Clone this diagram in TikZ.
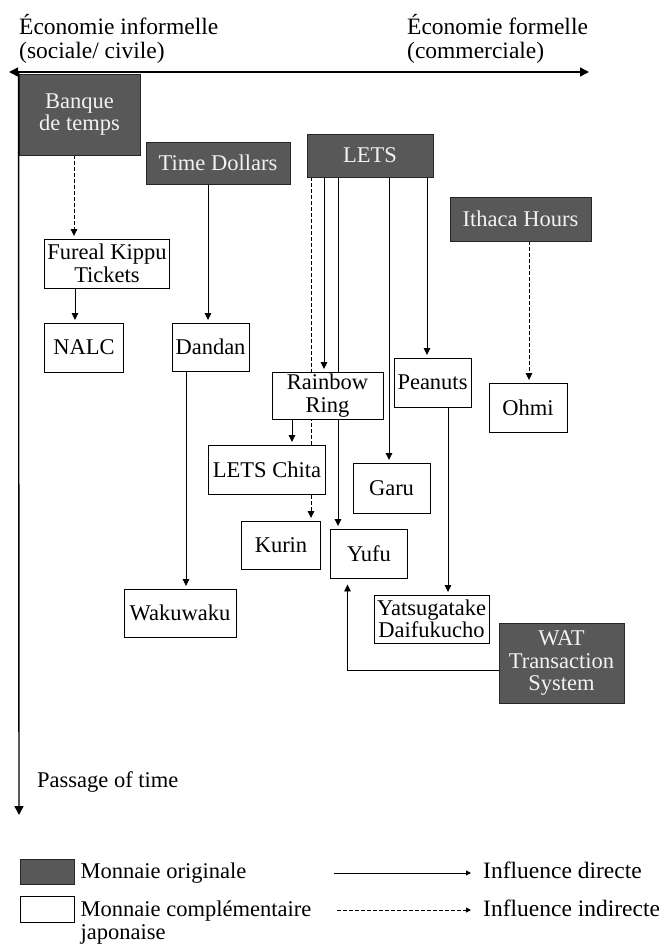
\documentclass[tikz,border=0pt]{standalone}
\usepackage{fontspec}
\setmainfont{Liberation Serif}
\usetikzlibrary{arrows.meta}
\definecolor{darkfill}{HTML}{585858}
\definecolor{lighttext}{HTML}{F2F2F2}
\pgfdeclarelayer{bg}
\pgfsetlayers{bg,main}
\begin{document}
\begin{tikzpicture}[x=1pt,y=-1pt,
  every node/.style={font=\fontsize{22.5}{22.5}\selectfont, inner sep=0pt},
  wbox/.style={draw=black, fill=white, line width=0.9pt, align=center},
  dbox/.style={draw=black!85, fill=darkfill, text=lighttext, line width=0.9pt, align=center},
  conn/.style={line width=0.9pt, -{Triangle[length=7pt,width=6.5pt]}, shorten >=2.5pt},
  dconn/.style={conn, dash pattern=on 3.5pt off 2.5pt},
  lbl/.style={anchor=base west},
  hdr/.style={lbl, font=\fontsize{23.5}{23.5}\selectfont},
  axisline/.style={line width=1.4pt}
]
\useasboundingbox (0,0) rectangle (664,945);

% header
\node[hdr] (h1) at (19,34) {Économie informelle};
\node[hdr] (h2) at (19,58) {(sociale/ civile)};
\node[hdr] (h3) at (407,34) {Économie formelle};
\node[hdr] (h4) at (407,58) {(commerciale)};

% boxes
\node[dbox, minimum width=121, minimum height=81] (banque) at (79.5,114.5) {Banque\\de temps};
\node[dbox, minimum width=144, minimum height=42] (timed) at (218,163) {Time Dollars};
\node[dbox, minimum width=126, minimum height=43] (lets) at (370,155.5) {LETS};
\node[dbox, minimum width=141, minimum height=44] (ithaca) at (520.5,219) {Ithaca Hours};
\node[wbox, minimum width=125, minimum height=49] (fureal) at (107,263.5) {Fureal Kippu\\Tickets};
\node[wbox, minimum width=79, minimum height=49] (nalc) at (84,347.5) {NALC};
\node[wbox, minimum width=77, minimum height=48] (dandan) at (210.5,347) {Dandan};
\node[wbox, minimum width=111, minimum height=47] (rainbow) at (327.5,395.5) {Rainbow\\Ring};
\node[wbox, minimum width=77, minimum height=49] (peanuts) at (432.5,382.5) {Peanuts};
\node[wbox, minimum width=78, minimum height=49] (ohmi) at (528,407.5) {Ohmi};
\node[wbox, minimum width=117, minimum height=49] (chita) at (267,469.5) {LETS Chita};
\node[wbox, minimum width=77, minimum height=50] (garu) at (391.5,488) {Garu};
\node[wbox, minimum width=79, minimum height=48] (kurin) at (281,545) {Kurin};
\node[wbox, minimum width=77, minimum height=49] (yufu) at (369,553.5) {Yufu};
\node[wbox, minimum width=112, minimum height=48] (waku) at (180,613) {Wakuwaku};
\node[wbox, minimum width=115, minimum height=48] (yatsu) at (431.5,619) {Yatsugatake\\Daifukucho};
\node[dbox, minimum width=125, minimum height=80] (wat) at (561.5,663) {WAT\\Transaction\\System};

% axes
\coordinate (axL) at (9,72);
\coordinate (axR) at (589,72);
\coordinate (axB) at (19,815);
\draw[axisline, {Triangle[length=9pt,width=9pt]}-{Triangle[length=9pt,width=9pt]}] (axL) -- (axR);
\draw[axisline, -{Triangle[length=9pt,width=9pt]}] (banque.west |- axL) -- (axB);
\node[lbl] (passage) at (37,787) {Passage of time};

% connectors (behind boxes)
\begin{pgfonlayer}{bg}
\draw[dconn] (banque.south -| 74,0) -- (fureal.north -| 74,0);
\draw[conn] (fureal.south -| 75,0) -- (nalc.north -| 75,0);
\draw[conn] (timed.south -| 208,0) -- (dandan.north -| 208,0);
\draw[conn] (dandan.south -| 186,0) -- (waku.north -| 186,0);
\draw[dconn] (lets.south -| 311,0) -- (kurin.north -| 311,0);
\draw[conn] (lets.south -| 324,0) -- (rainbow.north -| 324,0);
\draw[conn] (lets.south -| 338,0) -- (yufu.north -| 338,0);
\draw[conn] (lets.south -| 389,0) -- (garu.north -| 389,0);
\draw[conn] (lets.south -| 427,0) -- (peanuts.north -| 427,0);
\draw[conn] (peanuts.south -| 448,0) -- (yatsu.north -| 448,0);
\draw[conn] (rainbow.south -| 292,0) -- (chita.north -| 292,0);
\draw[dconn] (ithaca.south -| 529,0) -- (ohmi.north -| 529,0);
\coordinate (watbend) at (347.5,670);
\draw[conn, shorten >=6pt] (wat.west |- watbend) -- (watbend) -- (yufu.south -| watbend);
\end{pgfonlayer}

% legend
\node[dbox, minimum width=54, minimum height=25] (legD) at (47,871.5) {};
\node[wbox, minimum width=54, minimum height=26] (legW) at (47,909) {};
\node[lbl] (t1) at (80.5,878) {Monnaie originale};
\node[lbl] (t2) at (80.5,916.5) {Monnaie complémentaire};
\node[lbl] (t3) at (80.5,939) {japonaise};
\coordinate (s1) at (334,873);
\coordinate (e1) at (471,873);
\coordinate (s2) at (337,910);
\coordinate (e2) at (471,910);
\draw[conn, shorten >=0pt, -{Triangle[length=5pt,width=5pt]}] (s1) -- (e1);
\draw[dconn, shorten >=0pt, -{Triangle[length=5pt,width=5pt]}] (s2) -- (e2);
\node[lbl, font=\fontsize{23.5}{23.5}\selectfont] (t4) at (483,878) {Influence directe};
\node[lbl, font=\fontsize{23.5}{23.5}\selectfont] (t5) at (483,916.5) {Influence indirecte};
\end{tikzpicture}
\end{document}
